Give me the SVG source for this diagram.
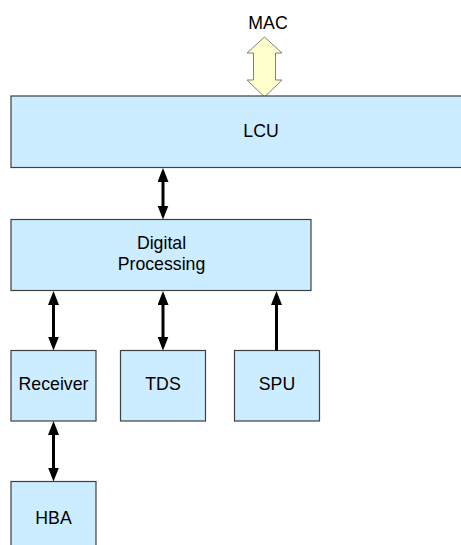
<svg xmlns="http://www.w3.org/2000/svg" width="461" height="545" viewBox="0 0 461 545">
<style>
.box{fill:#CCECFF;stroke:#404040;stroke-width:1.2}
.lbl{font-family:"Liberation Sans",Arial,sans-serif;font-size:17.7px;fill:#000;text-anchor:middle}
.conn{stroke:#000;stroke-width:3;fill:none}
</style>
<defs>
<marker id="ah" markerUnits="userSpaceOnUse" markerWidth="14" markerHeight="12" refX="10" refY="5.5" orient="auto-start-reverse">
<path d="M0,0 L14,5.5 L0,11 z" fill="#000"/>
</marker>
</defs>
<g id="mac">
<text class="lbl" x="268" y="28.5">MAC</text>
<polygon points="264.5,37 282,53 275.5,53 275.5,80 282,80 264.5,97 247,80 253.5,80 253.5,53 247,53" fill="#FFFFCC" stroke="#808080" stroke-width="1"/>
</g>
<g id="lcu">
<rect class="box" x="11" y="96" width="462" height="71.5"/>
<text class="lbl" x="261" y="136.5">LCU</text>
</g>
<g id="dp">
<rect class="box" x="11" y="219.5" width="300" height="71"/>
<text class="lbl" x="161.5" y="248.5">Digital</text>
<text class="lbl" x="161.5" y="269.5">Processing</text>
</g>
<g id="receiver">
<rect class="box" x="11" y="350.5" width="85" height="70.5"/>
<text class="lbl" x="53.5" y="389.5">Receiver</text>
</g>
<g id="tds">
<rect class="box" x="120.5" y="350.5" width="85" height="70.5"/>
<text class="lbl" x="163" y="389.5">TDS</text>
</g>
<g id="spu">
<rect class="box" x="234.5" y="350.5" width="85" height="70.5"/>
<text class="lbl" x="277" y="389.5">SPU</text>
</g>
<g id="hba">
<rect class="box" x="11" y="481.5" width="85" height="70"/>
<text class="lbl" x="53.5" y="523.5">HBA</text>
</g>
<g id="connectors">
<path class="conn" d="M163,172 L163,215.5" marker-start="url(#ah)" marker-end="url(#ah)"/>
<path class="conn" d="M53.5,295 L53.5,346.5" marker-start="url(#ah)" marker-end="url(#ah)"/>
<path class="conn" d="M163,295 L163,346.5" marker-start="url(#ah)" marker-end="url(#ah)"/>
<path class="conn" d="M276.5,350.5 L276.5,295" marker-end="url(#ah)"/>
<path class="conn" d="M53.5,425 L53.5,477.5" marker-start="url(#ah)" marker-end="url(#ah)"/>
</g>
</svg>
